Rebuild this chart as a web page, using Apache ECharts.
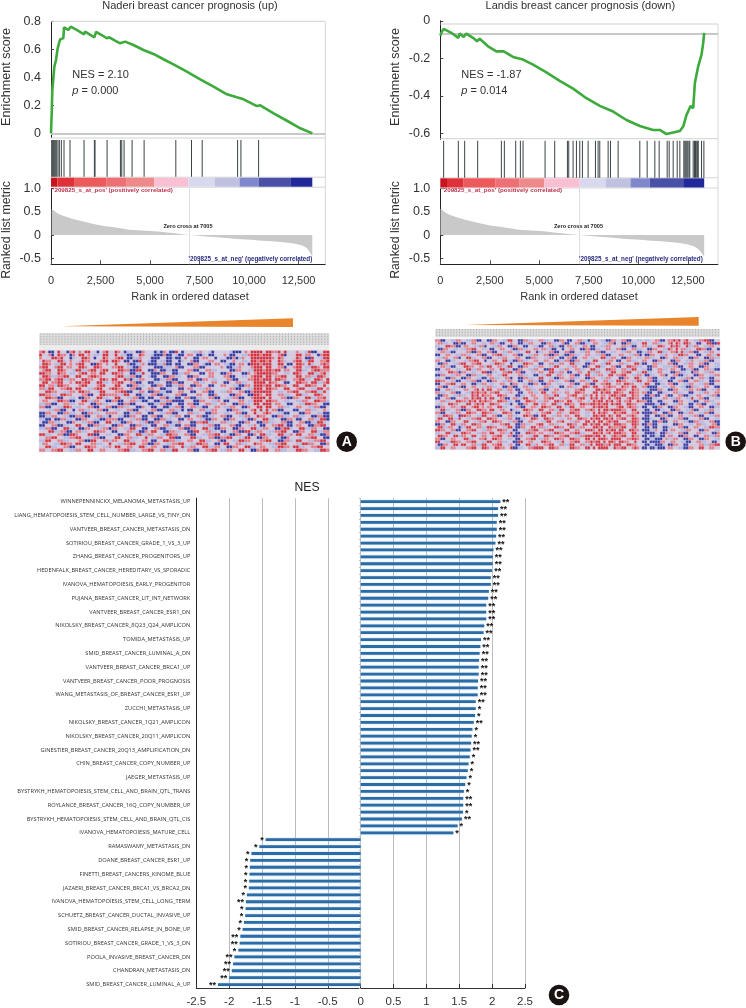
<!DOCTYPE html>
<html><head><meta charset="utf-8">
<style>html,body{margin:0;padding:0;background:#fff}#c{width:746px;height:1008px}</style>
<script src="https://cdn.jsdelivr.net/npm/echarts@6/dist/echarts.min.js"></script>
</head><body><div id="c"></div>
<script>
// ---------- Panel A (Naderi) ----------
var titleA = 'Naderi breast cancer prognosis (up)';
var esA = [[0,0],[34,.14],[67,.31],[118,.39],[168,.476],[253,.524],[337,.607],[455,.67],[624,.68],[657,.757],[876,.738],[994,.762],[1297,.738],[1668,.707],[1718,.726],[2190,.686],[2275,.724],[2561,.702],[2814,.679],[2949,.686],[3235,.662],[3488,.643],[3741,.655],[4162,.631],[4668,.595],[5174,.567],[5679,.529],[6185,.493],[6859,.44],[7533,.386],[8207,.333],[8881,.279],[9387,.257],[9724,.243],[10398,.195],[10567,.2],[11241,.143],[11915,.09],[12589,.036],[13196,0]];
var hitsA = [34,84,118,168,219,286,354,421,522,657,960,1668,2190,2224,2831,3505,3572,3690,4094,4701,6302,7094,7634,9421,9589,10482];
var stripA = [[0,320,'#c8141e'],[320,1163,'#e03038'],[1163,2814,'#ee5a5c'],[2814,3825,'#ee7075'],[3825,5207,'#f08a8a'],[5207,6942,'#f9c0d4'],[6942,8257,'#d8d8ee'],[8257,9520,'#c0c0e0'],[9520,10481,'#8088cc'],[10481,12115,'#4a50a8'],[12115,13194,'#20289a']];
var metricA = [[34,.57],[370,.46],[790,.39],[1634,.29],[2477,.21],[3319,.16],[4162,.107],[5004,.086],[5847,.057],[7005,0],[8374,-.05],[9217,-.079],[10059,-.1],[10902,-.129],[11744,-.157],[12587,-.214],[12924,-.286],[13194,-.464]];
// ---------- Panel B (Landis) ----------
var titleB = 'Landis breast cancer prognosis (down)';
var esB = [[0,-.079],[50,-.064],[168,-.043],[556,-.064],[910,-.091],[977,-.068],[1180,-.086],[1314,-.068],[1651,-.091],[1854,-.109],[1988,-.096],[2410,-.136],[2831,-.163],[3202,-.163],[3673,-.193],[4179,-.207],[4684,-.234],[5358,-.275],[6032,-.32],[6706,-.362],[7380,-.413],[8054,-.454],[8728,-.484],[9402,-.529],[10076,-.561],[10750,-.582],[11087,-.582],[11424,-.604],[11761,-.596],[12098,-.588],[12267,-.564],[12435,-.502],[12638,-.454],[12772,-.466],[12857,-.332],[13025,-.243],[13193,-.18],[13278,-.118],[13328,-.064]];
var hitsB = [168,910,1230,1887,3084,3235,3808,4044,4179,5291,5779,6420,6487,6706,6875,7043,7178,7465,7836,7970,8054,8476,8594,8981,10076,10447,10835,11054,11458,11559,11761,11964,12098,12300,12350,12400,12450,12500,12560,12600,12772,12840,12890,12950,13000,13025,13193,13312];
var stripB = [[0,337,'#c8141e'],[337,1180,'#e03038'],[1180,2797,'#ee5a5c'],[2797,4010,'#ee7075'],[4010,5240,'#f08a8a'],[5240,7043,'#f9c0d4'],[7043,8341,'#d8d8ee'],[8341,9604,'#c0c0e0'],[9604,10582,'#8088cc'],[10582,12267,'#4a50a8'],[12267,13328,'#20289a']];
var metricB = [[10,.57],[370,.46],[790,.39],[1634,.29],[2477,.21],[3319,.16],[4162,.107],[5004,.086],[5847,.05],[7005,0],[8374,-.05],[9217,-.079],[10059,-.1],[10902,-.129],[11744,-.157],[12587,-.214],[12980,-.286],[13328,-.464]];
var xTicks = [0,2500,5000,7500,10000,12500];
var esTicksA = [0,.2,.4,.6,.8];
var esTicksB = [0,-.2,-.4,-.6];
var metricTicks = [1,.5,0,-.5];
var posLabel = "'209825_s_at_pos' (positively correlated)";
var negLabel = "'209825_s_at_neg' (negatively correlated)";
var zeroLabel = 'Zero cross at 7005';

// ---------- Heat maps: . light  p pale  r red  R deep red  b pale blue  B deep blue ----------
var heatCodes = {'.':0,'p':1,'r':2,'R':3,'b':4,'B':5};
var heatColors = ['#cdcfe6','#d5c6dc','#e47a84','#d6303a','#b4b6de','#34369f'];
var heatA = [
"rRpBB.Rp.BrR .rpRR.pB.rRp pRr.BbbpBBrp ..BbBrpBBR.B p.pbbrp.bBp. pp.bBBBprpRR RRpRRrrRpRp. prp.bRBBp.RR",
"RpprB.RrrpBr pRRprpbbpRRp pRpbbBBp.Rrp pbBBBrBBpbBB prrpBBb.BBp. .rpBBppbbrRR RrRRRpprRBpp pRRprrp.BrRR",
"r.ppRRrRp.Bb ppRRrpBp.Rrp .rRRpBBbbrp. pBBBppBBbBBp r.pBBprrp.B. ppBBrBbrppRR RRRRRrpRrp.p pRrpBBR.pbRR",
"pRrrppRRbprp pbRrrppprRRp RRrpBBpBBRp. bBBpbbBBp.Bb p.rBBp.prrp. BBpprp.bbpRR rRRrRppRrbpp rRRpbRRpprrR",
"pRRrpbbRRprp rRRppBBRrpr. .RppprBBbbrp BBBbbrBBpBBp .BBrrpbBBprr .bbBBprrpBRR RrRRRppRRpBB pRRrpRbpprRr",
"rRRpprRRprrp pRRrppRRrpp. rrRRpbbBBrp. ppBBBbbbprBB p.prrBBpp... rpBBbbrppprR RRpRRpprrBpp rRRpbbRRrpRR",
"prRRp.RRrppb RRbbrRRprRRp .pRRrrBBRRp. BBrpBBbbBBpp prrBBp.rrbb. pp.BBrrppbbR RRrRRrRRprrp pRRbbprRRrrr",
"RRrrppRrrpbb prRRprrpRRpp RRrrppBBbbRp pBBBrrppBBbb rrpppBB.rrpp BBrrpp.BBrpr RRRRRrrppbbp RRrppRRbbrRp",
"pRRrbbrrRRp. RRpprRRrrpp. prRRbbrrBBp. bBBppBBrrbb. pBBrrp.prr.. .rrBBppbbprR RRpRRprrRRpp pRRprrbbRRrp",
"rrRRprRRbbrr ppRRrrppRRrp RRppRrBbbrrp ppBBbbrrBBpp prrpBBrrpbb. pprrBBppprrR RrRRRpRRrrp. rrRRbbpRRrpR",
"pRRprrRRpprp RRrRRppRRbb. rrRRpprrBBp. BBbbppBBrrBB .pprrbbpprr. pBBpprrbbppR RRRpRrrppBB. pRRrrpRRbbrR",
"RRprrbRRrrp. prRRppprRRpp pRRppBBrrbb. pBBrrpBBbbrr ppBBrr.pBB.. rrppbbBBrrpR RRrRRpRRrrpp RRppRRrrppRp",
"rrbRRpprrRRp RRppbbrRRppr RRrrpprrBBpp rrppBBbbppBB prrppbbrrp.. .pprrBBppbbR RRpRRrrppRRp prRRppbbRRpr",
"ppRRrrppbbrr pRRrrppbRRpp prrRRBBpprr. BBrrbbBBpprr p.BBpprrBBpp bbrrpprrBBrR RRRRRppbbprr RRpprrRRbbRp",
"RRrrbbpRRrr. pprrBBppRRrr rrbbRRppBBbb prrBBbbpprrB BppprrppBBr. .ppBBrrppBBR RrpRRpprrbbp pRRbbppRRrpp",
"ppRRrrBBppbb pBBrrppRRbb. pRRppbbrrBB. BBpprrBbbBB. rrBBbbpprrBB ppbbrrBBpprR RRRpRppprrBB rrppRRbbrrRp",
"prrppbRRrrBB ppRRbbrrppBB rrBBpprrbbBB ppBBbbrrBBBB pppBBrrppbbr pBBppprrpbbR RRpRRrrppbb. pbbrrppRRrrb",
"bbrrBBpprrbb .rrppBBrrbb. ppBBrrBBpp.. BBbbrrBBppBB .rrBBpprrbb. rrppBBrrbbpR RpRRRprrppBB ppbbRRrrppBB",
"rrBBppbbRRrp bbpprrBBpprr BBrrbbppBBrp pBBppBBbbrrB pprrbbBBpprr pbbrrppBBrpp RRpRRpprrbb. prrppbbrrBBp",
".ppbbrrBBppB .rrbbpprrBB. pbbpprrBBppb prrBBpprrbbB pBBpprrbbrr. ppBBrrbbpprR pRpRprrBBpp. BBpprrbbpprp",
"BBrrppBBrrbb ppBBrrbbpprr rrppBBbbrrpp BBppbbrrBBpp .rrbbppBBrrp pbbpprrBBppR pprRrppbbBB. ppBBrrppbbBB",
"BBbbrrppbbBB rrrBBpprrbbB ppbbBBrrppBB prrBBppbbrr. BBpprrBBbbpp rrBBppbbrrpp RrrppBBrrbb. rrbbppBBrrBB",
"bbBBpBBrrbbp BBrrppbbBBrr rrBBppbbrrBB ppBBrrbbppBB prrppbbBBrrp .BBrrppbbBBr ppRRbbppBBrr pBBpprrbbRRB",
"pBBrrbbppBBr ppbbrrBBppRR pbbBBrrppbbr BBrrppBBbbrp ppBBrrRRbbpp rrbbppBBrrpp BBrrbbpprrBB pprrBBbbRRb.",
"BBpprrBBbbpp RRppBBrrbbpp BBrrppBBrrbb pBBpprrbbBBp rrBBppbbrrBB ppprrBBppbbr pBBpprrRRbBB prrppBBrrRRp",
"bbrrBBppRRbb pBBrrppbbrrB rrppbbRRppBB pprrBBbbpprr BBrrppRRbbBB rrppBBrrppRR bbrrppBBrRRb ppRRbbrrppBB",
".ppRRbbrrBBp rrbbppRRrrpp BBppprrbbBBr pRRppBBrrbbp pBBRRpprrbb. BBpprrBBRRbb rrppbbrrRRp. BBrrppRRbbrr",
"RRbbpprrBBRR rpppRRBBppbb ppBBrrppRRbb rrppbbRRrrpp rrBBppbbrrRR pbbBBrrppBBr pRRbbppRRbbr pRRpprrbbBBr",
"pprrRRppbbrr RRppbbrrBBpp pRRpprrbbppR pbbrrppRRBB. ppRRbbpprrBB rrRRppbbRRpp BBrrppbbBBr. ppbbrrRRppBB",
"bbRRpprrbbpp prrBBRRpprrb rrppRRbbpprr pBBppRRrrbbp prrppRRbbppr BBppbbRRrrpp prrRRppBBrrb pRRppbbrrRRp",
".rrppbbRRrrp RRppprrbbppR ppbbrrRRpprr BBrrppbbrrRR ppbbRRrrppBB pRRpprrbbppR rrppbbrrRRp. pbbRRrrppBBr",
"ppRRbbpprrBB .ppRRrrppbbr pRRpprrppRRb prrppBBrrppR bbrrppRRbbrr ppBBrrppRRbb prrppbbRRrrp RRbbpprrRRpp",
"rrpprrRRppbb rrppRRpprrpp pprrRRbbpprr RRpprrbbRRpp .rrBBpprrRRp bbrrppRRppBB rrRRpprrbbpp pRRrrppbbRRr"
];
var heatB = [
"rrBBppbbrr ppbbrrBBpp BBrrppbbRR ppBBrrbbpp rrbbppBBrr pBBpprrbbB rrppbbBBrr pprrBBppbb pbbpprrBBp rrRrRprRpp bbrrRRBBpp",
"prrbbppBBr BBpprrppbb prrbbBBppr ppBBbbrrpp pBBrrbbppr BBpprrBBbb prrppbbrrB ppBBrrbbpp RRpprrbbpp rRpRrpRRrp pBBppRRBBR",
"bbppRRrrBB prrppbbrrB ppbbrrppBB rrppBBppbb BBpprrbbBB prrbbpprrp BBppbbrrpp pprrbbBBpp rrbbppRRrp pRrRrppRbb rrppbbrrpp",
"pBBrrppbbp bbrrRRppbb pBBpprrppb BBrrbbpprr prrbbBBppB pprrppBBrr BBbbpprrpp rrBBpprrbb ppBBrrppbb RrpRprrbbp pRRrrBBppB",
"pprrbbBBpp pprrBBrrpp rrBBppbbrr pbbppRRppB bbpprrBBpp rrBBppbbrr pprrBBppbb ppbbrrppBB bbrrppRRbb prrRpRbbrr BBppbbrrpp",
"BBpprrppbb rrbbpprrBB pprrRRbbpp rrBBppbbrr pprrBBrrpb BBrrbbpprr ppbbrrBBpp prrppbbrrB pBBrrppbbr ppbbRRrrpp pBBpprrbbR",
"pbbrrpprrB ppRRbbpprr BBppbbrrpp prrppBBrrb ppbbrrppBB prrBBpprrp bbppRRbbrr ppBBrrppbb prrbbppBBr pprrbbppBB rrppBBrrbb",
"rrppBBbbpp pbbrrRRppB pprrppRRbb BBrrbbpprr pprrppBBbb rrBBrrppbb pRRppbbrrp BBpprrbbpp rrppBBrrpp pBBrrppbbr ppbbrrBBpp",
"pBBrrppbbr RRpprrRRpp pbbRRrrppB ppbbRRrrpp BBpprrbbrr ppRRbbppBB rrppbbRRpp prrbbppRRb BBpprrbbpp rrBBppbbrr pprrBBppbb",
"pprrbbBBpp pRRrrpprrb RRpprrbbRR ppBBrrppbb rrppbbRRpp pbbrrppBBr ppRRbbpprr BBppRRrrbb ppBBrrppbb bbrrBBpprr ppBBrrppbb",
"BBpprrppbb ppRRbbrrpp prrppRRbbp BBrrppbbrr ppBBRRppbb rrpprrbbpp RRbbppRRrr pprrbbRRpp bbBBpprrbb prrppBBbbr BBpprrbbBB",
"pbbppRRrrB rrppbbppRR BBbbpprrRR prrBBppbbp rrppRRbbrr pBBpprrppR bbrrppbbRR pprrRRppbb RRbbpprrpp pBBrrbbppB rrppbbrrpp",
"BBrrppbbrr ppBBrrbbpp rrppbbRRpp pprrbbppBB pbbRRpprrb pprrBBppRR pbbrrppRRp rrRRppbbrr pBBbbpprrB pprrBBbbpp BBrrppbbrr",
"bbppBBrrpp BBrrppbbBB prrbbpprrB ppBBrrbbpp RRppbbBBrr pprrbbppBB rrppbbrrpp pBBrrppRRb pprrBBppbb pBBppbbrrB pprrbbBBpp",
"RRrrppbbBB ppbbrrBBpp BBrrppbbrr ppBBpprrbb BBpprrbbpp rrBBpprrbb pRRpprrbbp RRrrppbbRR pprrBBbbpp BBpprrBBpp rrbbppBBrr",
"BBpprrRRpp rrppBBbbrr pbbpprrppB rrppbbBBrr pBBrrppbbp pprrBBpprr BBpprrRRpp rrpRRrrppb pRRppBBbbp rrBBppbbrr ppbbrrBBpp",
"prrBBppbbr BBpprrppbb rrbbppBBrr BBpprrbbpp pprrbbppBB prrbbppRRr pRRpprrRrr ppRrrpRRpp rrBBBBppbb prrppbbBBr bbpprrppBB",
"BBpprrbbpp prrpprRpRp RRpprrbbrr pBBpprrbbp rrBBpprrpp bbpprrRRpp ppRRrRrrpp RRrrppRrrp pbbBBBrrpp BBrrppbbrr prrBBppbbr",
"rrbbpprrBB ppbbRrRrrR prrRRppbbr ppBBpprrbb pRRpprrbbp rrppRRrrpp pRRpRrRRpR RrrppRRrrp rrBBppBBbb pprrbbppBB ppbbrrpprr",
"pBBrrppbbr bbppRrRpRr rrppRRrrpp pBBbbpprrp pprrbbRRpp prrRRpprrb RpRprrprRR rrRRppRrrp pBBrrBBppr BBpprrBBbb prrppbbrrB",
"BBpprrBBpp prrpRrRRpR pRRpprrBBp rrbbRRpprr pprrRRppbb rrpprrRRpp RrRpRrpRpr RRpprRRrrp BBBBbbpprr pbbrrppbbR pprrBBppbb",
"pprrbbppRR rrbRrRpRrR rrppRRrrbb pBBppRRrrp bbrrppRRrr pRRpprrppb pRrRRpRrRp rRprrRppRr rrBBppBBpp ppBBrrppbb BBpprrbbpp",
"pbbppRRrrp ppRRprRrRp pRRrrppbbB ppBBrrppRR prrppRRbbp RRrrppRRrr RRrRrRRpRr RRppRRrrpp pBBBBbbBBr ppbbrrppBB prrBBppbbr",
"BBrrpprrbb RRpprRRprp rrppRRbbpp prrBBpprrb pRRrrppRRp bbRRpprrpp pRrRRrRppp rRRprRrrbp BBppBBrrpp BBrrppbbBB pprrppBBbb",
"ppRRbbpprr BBrrppRRrr pRRpprrppB bbppRRrrpp RRpprrbbRR pprrRRpprr RrpRpRRrRR RRrrppRRpp pBBppBBbbp pBBrrppbbr BBppbbrrpp",
"rrBBppbbrr ppRRrrppRR rrbbppRRrr pBBpprrppb prrRRpprrb ppRRrrppbb pRpRrRrppR rrRRpprrRp BBBBrrppBB rrppBBbbrr ppbbrrBBpp",
"pbbRRrrppB RRrrppbbRR pprrBBpprr bbppRRrrBB pRRppbbrrp rrppRRppbb pRRrRRpRrp RRpprrRrpp pBBppBBrrb BBpprrppbb rrBBppbbrr",
"pRRppRRbbR ppbbrrRRpp RRrrppbbrr pBBbbppRRr ppRRrrppbb prrppRRrrp RrRRpRRrRp rrRRppRRrp BBBbbppBBr ppbbrrBBpp pprrBBppbb",
"rrppBBrrpp pRRppbbrrR ppRRrrppbb rrBBpprrpp pbbRRpprrR ppbbrrppRR pRpRRprRrR RppprrRRrp pBBpBBrrBB pprrppbbBB rrbbpprrBB",
"BBrrppRRbb rrppRRrrpp pbbpprrRRp pBBrrbbppr RRpprrbbpp pRRrrppRRp RrRRpRRrpR RRrrppRRrp BBrrBBppbb ppBBrrppbb prrbbpprrB",
"pRRbbrrppB bbRRpprrbb RRrrppbbRR pBBrrppRRp rrbbppRRrr ppRRbbrrpp pRRrRppRrr rrRRpprRpp pBBpBBppBB bbpprrBBpp rrppbbRRrr",
"RRrrpprrBB pprrRRppbb rrppRRrrpp BBppbbrrRR pprrRRppbb RRpprrppRR RrpRRpRrRR pRRppRRrrp BBBbbrppBB prrppbbrrp ppBBrrppbb",
"bbppRRbbpp RRrrppbbrr pRRpprrbbR pBBppRRrrp rrppbbRRrr pprrRRbbpp pRRrRprRpR RRrrppRRpp pBBBBbpBBr bbpprrBBpp prrbbppBBr",
"pRRrrppRRb rrppRRpprr pprrRRpprr BBrrppbbRR ppRRrrpprr RRppbbrrRR RrRRpRpprR rrRRppRrrp BBpBBbbBBp rrppBBrrpp BBpprrbbrr",
"rrBBpprrpp pRRbbpprrR ppRRrrppbb pBBpprrRRp bbrrppRRrr ppRRrrppRR pRpRRRrpRR RRpprrRRrp pBBbbBBBpr bbrrppBBrr ppBBrrppbb",
"RRppbbRRrr pprrRRppbb RRpprrbbpp BBRRpprrpp pRRrrppbbR pprrRRpprr RrRRpRpRRr pRRrrppRpp BBpBBBBrrp prrppbbBBp prrbbppBBp",
"pBBrrppRRp RRpprrbbRR pprrRRppbr pBBppRRbbr pprrRRpprr bbRRpprrbb RpRRRrrRpR RRppRRrrpp pBBbbBBBbp BBrrppBBpp pprrbbrrRR",
"bbRRpprrpp pprrRRppRR rppRRrrppR BBbbpprrRR RRppRRrrpp ppRRrrppRR pRpRRRRppR rrRRpprRrp BBpBBbBBBp rrppbbBBrr ppRRpprrpp"
];
// ---------- Panel C (NES bars) ----------
var namedC = ['WINNEPENNINCKX_MELANOMA_METASTASIS_UP','LIANG_HEMATOPOIESIS_STEM_CELL_NUMBER_LARGE_VS_TINY_DN','VANTVEER_BREAST_CANCER_METASTASIS_DN','SOTIRIOU_BREAST_CANCER_GRADE_1_VS_3_UP','ZHANG_BREAST_CANCER_PROGENITORS_UP','HEDENFALK_BREAST_CANCER_HEREDITARY_VS_SPORADIC','IVANOVA_HEMATOPOIESIS_EARLY_PROGENITOR','PUJANA_BREAST_CANCER_LIT_INT_NETWORK','VANTVEER_BREAST_CANCER_ESR1_DN','NIKOLSKY_BREAST_CANCER_8Q23_Q24_AMPLICON','TOMIDA_METASTASIS_UP','SMID_BREAST_CANCER_LUMINAL_A_DN','VANTVEER_BREAST_CANCER_BRCA1_UP','VANTVEER_BREAST_CANCER_POOR_PROGNOSIS','WANG_METASTASIS_OF_BREAST_CANCER_ESR1_UP','ZUCCHI_METASTASIS_UP','NIKOLSKY_BREAST_CANCER_1Q21_AMPLICON','NIKOLSKY_BREAST_CANCER_20Q11_AMPLICON','GINESTIER_BREAST_CANCER_20Q13_AMPLIFICATION_DN','CHIN_BREAST_CANCER_COPY_NUMBER_UP','JAEGER_METASTASIS_UP','BYSTRYKH_HEMATOPOIESIS_STEM_CELL_AND_BRAIN_QTL_TRANS','ROYLANCE_BREAST_CANCER_16Q_COPY_NUMBER_UP','BYSTRYKH_HEMATOPOIESIS_STEM_CELL_AND_BRAIN_QTL_CIS','IVANOVA_HEMATOPOIESIS_MATURE_CELL','RAMASWAMY_METASTASIS_DN','DOANE_BREAST_CANCER_ESR1_UP','FINETTI_BREAST_CANCERS_KINOME_BLUE','JAZAERI_BREAST_CANCER_BRCA1_VS_BRCA2_DN','IVANOVA_HEMATOPOIESIS_STEM_CELL_LONG_TERM','SCHUETZ_BREAST_CANCER_DUCTAL_INVASIVE_UP','SMID_BREAST_CANCER_RELAPSE_IN_BONE_UP','SOTIRIOU_BREAST_CANCER_GRADE_1_VS_3_DN','POOLA_INVASIVE_BREAST_CANCER_DN','CHANDRAN_METASTASIS_DN','SMID_BREAST_CANCER_LUMINAL_A_UP'];
var positiveC = [2.125,2.09,2.09,2.07,2.07,2.06,2.05,2.02,2.01,2.01,2.0,1.98,1.98,1.95,1.94,1.91,1.91,1.91,1.88,1.87,1.83,1.82,1.81,1.80,1.795,1.795,1.785,1.78,1.78,1.75,1.75,1.74,1.72,1.70,1.69,1.68,1.67,1.66,1.64,1.63,1.61,1.59,1.57,1.56,1.56,1.557,1.54,1.475,1.41];
var negativeC = [-1.445,-1.54,-1.66,-1.68,-1.685,-1.69,-1.695,-1.70,-1.73,-1.745,-1.75,-1.755,-1.775,-1.795,-1.83,-1.84,-1.86,-1.92,-1.94,-1.96,-2.0,-2.17];
var starsPos = [2,2,2,2,2,2,2,2,2,2,2,2,2,2,2,2,2,2,2,2,2,2,2,2,2,2,2,2,2,2,1,1,2,1,1,2,2,1,1,1,1,1,1,2,2,1,2,1,1];
var starsNeg = [1,1,1,1,1,1,1,1,1,2,1,1,1,1,2,2,1,2,2,2,2,2];
var nesTicks = [-2.5,-2,-1.5,-1,-.5,0,.5,1,1.5,2,2.5];

// ---------- page layout ----------
var FONT = '"Liberation Sans", Arial, sans-serif';
var TXT = '#333';
var panelA = {left:51, right:325.3, xMax:13850, esTop:21.3, esH:116.4, esMin:-0.031, esMax:.8, esTicks:esTicksA, zero:0, hitsTop:140, hitsH:36.7, stripTop:177.7, stripH:9, es:esA, hits:hitsA, strip:stripA, metric:metricA};
var panelB = {left:440.3, right:718, xMax:14025, esTop:20.8, esH:118.5, esMin:-.632, esMax:0, esTicks:esTicksB, zero:-.069, hitsTop:140.7, hitsH:37, stripTop:178.3, stripH:9.2, es:esB, hits:hitsB, strip:stripB, metric:metricB};

var grids=[], xAxes=[], yAxes=[], series=[], graphics=[];
function addGrid(g,x,y){ grids.push(g); x.gridIndex=grids.length-1; y.gridIndex=grids.length-1; xAxes.push(x); yAxes.push(y); return grids.length-1; }
function hiddenAxis(extra){ return Object.assign({type:'value',show:false,splitLine:{show:false}},extra); }
function gtext(x,y,text,o){ graphics.push({type:'text',x:x,y:y,rotation:o.rot||0,z:20,style:Object.assign({text:text,fontFamily:FONT,fontSize:o.size||11,fill:o.color||TXT,fontWeight:o.weight||'normal',textAlign:o.align||'center',textVerticalAlign:'middle'},o.rich?{rich:o.rich}:{})}); }
function gline(x1,y1,x2,y2,color,w){ graphics.push({type:'line',z:1,shape:{x1:x1,y1:y1,x2:x2,y2:y2},style:{stroke:color,lineWidth:w||1}}); }

function drawPanel(p){
  var w=p.right-p.left;
  var i=addGrid({left:p.left,top:p.esTop,width:w,height:p.esH},
    hiddenAxis({min:0,max:p.xMax}),
    {type:'value',min:p.esMin,max:p.esMax,splitLine:{show:false},
     axisLine:{show:true,onZero:false,lineStyle:{color:'#222'}},
     axisTick:{show:true,inside:true,length:3,customValues:p.esTicks,lineStyle:{color:'#444'}},
     axisLabel:{customValues:p.esTicks,fontFamily:FONT,fontSize:12.5,color:TXT,margin:10,formatter:function(v){return v===0?'0':String(Math.round(v*10)/10);}}});
  series.push({type:'line',xAxisIndex:i,yAxisIndex:i,data:p.es,showSymbol:false,smooth:false,silent:true,z:5,
    lineStyle:{color:'#3cab3c',width:2.6},
    markLine:{silent:true,symbol:'none',label:{show:false},animation:false,lineStyle:{color:'#c6c9c6',width:2,type:'solid'},data:[{yAxis:p.zero}]}});
  i=addGrid({left:p.left,top:p.hitsTop,width:w,height:p.hitsH},hiddenAxis({min:0,max:p.xMax}),hiddenAxis({min:0,max:1}));
  series.push({type:'bar',xAxisIndex:i,yAxisIndex:i,barWidth:1,silent:true,itemStyle:{color:'#3a4446'},data:p.hits.map(function(r){return [r,1];})});
  i=addGrid({left:p.left,top:p.stripTop,width:w,height:p.stripH},hiddenAxis({min:0,max:p.xMax}),hiddenAxis({min:0,max:1}));
  series.push({type:'custom',xAxisIndex:i,yAxisIndex:i,silent:true,data:p.strip.map(function(s){return [s[0],s[1],s[2]];}),encode:{x:[0,1]},
    renderItem:function(params,api){
      var a=api.coord([api.value(0),1]), b=api.coord([api.value(1),0]);
      return {type:'rect',shape:{x:a[0],y:a[1],width:b[0]-a[0],height:b[1]-a[1]},style:{fill:p.strip[params.dataIndex][2]}};
    }});
  i=addGrid({left:p.left,top:188.7,width:w,height:75.6},
    {type:'value',min:0,max:p.xMax,splitLine:{show:false},
     axisLine:{show:true,onZero:false,lineStyle:{color:'#222'}},
     axisTick:{show:true,inside:true,length:4,customValues:xTicks,lineStyle:{color:'#555'}},
     axisLabel:{customValues:xTicks,fontFamily:FONT,fontSize:11,color:TXT,margin:11,formatter:function(v){return v.toLocaleString('en-US');}}},
    {type:'value',min:-.631,max:1,splitLine:{show:false},
     axisLine:{show:true,onZero:false,lineStyle:{color:'#222'}},
     axisTick:{show:true,inside:true,length:3,customValues:metricTicks,lineStyle:{color:'#444'}},
     axisLabel:{customValues:metricTicks,fontFamily:FONT,fontSize:12.5,color:TXT,margin:10,formatter:function(v){return v===1?'1.0':String(v);}}});
  series.push({type:'line',xAxisIndex:i,yAxisIndex:i,data:p.metric,showSymbol:false,silent:true,smooth:.3,
    lineStyle:{width:0},areaStyle:{color:'#c9c9c9',opacity:1},
    markLine:{silent:true,symbol:'none',label:{show:false},animation:false,lineStyle:{color:'#bdbdc8',width:1,type:'dotted'},data:[{xAxis:7005}]}});
  gline(p.left,p.esTop+(p===panelB?3.2:0),p.right,p.esTop+(p===panelB?3.2:0),'#cfd2cf');
  gline(p.right,p.esTop+(p===panelB?3.2:0),p.right,264.3,'#d4d6d4');
  gline(p.left,p.hitsTop-2,p.right,p.hitsTop-2,'#cfd2cf');
  gline(p.left,p.stripTop-.5,p.right,p.stripTop-.5,'#d4d6d4');
  gline(p.left,p.stripTop+p.stripH+.5,p.right,p.stripTop+p.stripH+.5,'#d4d6d4');
}
drawPanel(panelA); drawPanel(panelB);

function drawHeat(rows,left,top,width,height){
  var clean=rows.map(function(r){return r.replace(/ /g,'');});
  var cols=Math.max.apply(null,clean.map(function(r){return r.length;}));
  var cells=[];
  clean.forEach(function(r,y){ for(var x=0;x<r.length;x++){ cells.push([x,y,heatCodes[r[x]]]); } });
  var cats=function(n){var a=[];for(var k=0;k<n;k++)a.push(String(k));return a;};
  var i=addGrid({left:left,top:top,width:width,height:height},
    {type:'category',data:cats(cols),show:false},
    {type:'category',data:cats(clean.length),inverse:true,show:false});
  series.push({type:'heatmap',xAxisIndex:i,yAxisIndex:i,data:cells,silent:true,progressive:0,
    itemStyle:{borderColor:'#d9daea',borderWidth:.4}});
  return series.length-1;
}
var hA=drawHeat(heatA,39.3,350.7,290,101);
var hB=drawHeat(heatB,435.3,339.3,284.4,110);
function gheader(x,y,h){ graphics.push({type:'line',z:2,shape:{x1:x,y1:y,x2:x,y2:y+h},style:{stroke:'#b4b4b4',lineWidth:1,lineDash:[1.5,1.2]}}); }
function heatHeader(x,y,w,h,bandH,cols){
  graphics.push({type:'rect',z:1,shape:{x:x,y:y,width:w,height:h},style:{fill:'#dcdcdc'}});
  if(bandH) graphics.push({type:'rect',z:1,shape:{x:x,y:y+h,width:w,height:bandH},style:{fill:'#ececec'}});
  for(var k=0;k<cols;k++){ gheader(x+(k+.5)*w/cols,y,h); }
}
heatHeader(39.3,333.3,290,11.7,5.5,96);
heatHeader(435.3,329,284.4,8.3,0,100);

graphics.push({type:'polygon',z:3,shape:{points:[[61.3,326.3],[293,318.3],[293,327]]},style:{fill:'#e8842c'}});
graphics.push({type:'polygon',z:3,shape:{points:[[464.7,325],[698.7,317],[698.7,325.7]]},style:{fill:'#e8842c'}});

var allC=[];
namedC.forEach(function(n,idx){ allC.push(n); if(idx<namedC.length-1) allC.push(''); });
var valuesC=positiveC.concat(negativeC), starsC=starsPos.concat(starsNeg);
var barData=valuesC.map(function(v,idx){
  return {value:v,label:{position:v<0?'left':'right',formatter:starsC[idx]===2?'**':'*'}};
});
grids.push({left:196.3,top:498.2,width:328.7,height:492.1});
var gi=grids.length-1;
xAxes.push({type:'value',gridIndex:gi,min:-2.5,max:2.5,interval:.5,
  axisLine:{show:true,onZero:false,lineStyle:{color:'#333'}},
  axisTick:{show:true,inside:true,length:4,lineStyle:{color:'#333'}},
  splitLine:{show:true,lineStyle:{color:'#b9bcbf',width:1}},
  axisLabel:{fontFamily:FONT,fontSize:11.5,color:TXT,margin:8,customValues:nesTicks,formatter:function(v){return String(v);}}});
yAxes.push({type:'category',gridIndex:gi,data:allC,inverse:true,
  axisLine:{show:true,onZero:false,lineStyle:{color:'#222',width:1}},
  axisTick:{show:false},
  axisLabel:{interval:0,fontFamily:'"Open Sans",sans-serif',fontSize:5.7,color:'#333',margin:6}});
yAxes.push({type:'category',gridIndex:gi,data:allC,inverse:true,position:'left',
  axisLine:{show:true,onZero:true,lineStyle:{color:'#c8cbd0',width:.5}},
  axisTick:{show:true,interval:0,length:1.5,lineStyle:{color:'#b5b8bc'}},axisLabel:{show:false}});
series.push({type:'bar',xAxisIndex:xAxes.length-1,yAxisIndex:yAxes.length-2,data:barData,barWidth:2.8,silent:true,
  itemStyle:{color:'#2b6ba6',shadowBlur:2,shadowColor:'#a9cdea'},
  label:{show:true,fontFamily:FONT,fontSize:9,fontWeight:'bold',color:'#111',distance:2,offset:[0,1]}});
series.push({type:'line',xAxisIndex:xAxes.length-1,yAxisIndex:yAxes.length-1,data:[],silent:true});

gtext(190,5.5,titleA,{size:11});
gtext(580.3,5.5,titleB,{size:11});
[[6.5,51,190,72.3,'NES = 2.10','0.000',188],[395.3,440.3,579,461.3,'NES = -1.87','0.014',578.5]].forEach(function(t){
  gtext(t[0],77,'Enrichment score',{size:12.6,rot:Math.PI/2});
  gtext(t[0],230,'Ranked list metric',{size:12.3,rot:Math.PI/2});
  gtext(t[2],296.7,'Rank in ordered dataset',{size:11});
  gtext(t[3],75,t[4],{size:11,align:'left'});
  gtext(t[3],91,'{i|p} = '+t[5],{size:11,align:'left',rich:{i:{fontStyle:'italic',fontFamily:FONT,fontSize:11,fill:TXT}}});
  gtext(t[1]+2,190.7,posLabel,{size:6.2,align:'left',color:'#c0304a',weight:'bold'});
  gtext(t[6],226,zeroLabel,{size:5.6,color:'#222',weight:'bold'});
  gtext(t[6]+.5,259.3,negLabel,{size:6.3,align:'left',color:'#2a2a80',weight:'bold'});
});
gtext(307,488,'NES',{size:12.2,color:'#222'});

[[346.7,441.7,'A'],[735.7,441.7,'B'],[559,995,'C']].forEach(function(b){
  graphics.push({type:'circle',z:10,shape:{cx:b[0],cy:b[1],r:10.3},style:{fill:'#1a1311'}});
  gtext(b[0],b[1]+.5,b[2],{size:14,color:'#fff',weight:'bold'});
});

var chart=echarts.init(document.getElementById('c'),null,{renderer:'canvas'});
chart.setOption({
  animation:false,backgroundColor:'#fff',
  grid:grids,xAxis:xAxes,yAxis:yAxes,series:series,graphic:graphics,
  visualMap:[{type:'piecewise',show:false,seriesIndex:[hA,hB],dimension:2,
    pieces:heatColors.map(function(c,i){return {value:i,color:c};})}]
});
</script></body></html>
